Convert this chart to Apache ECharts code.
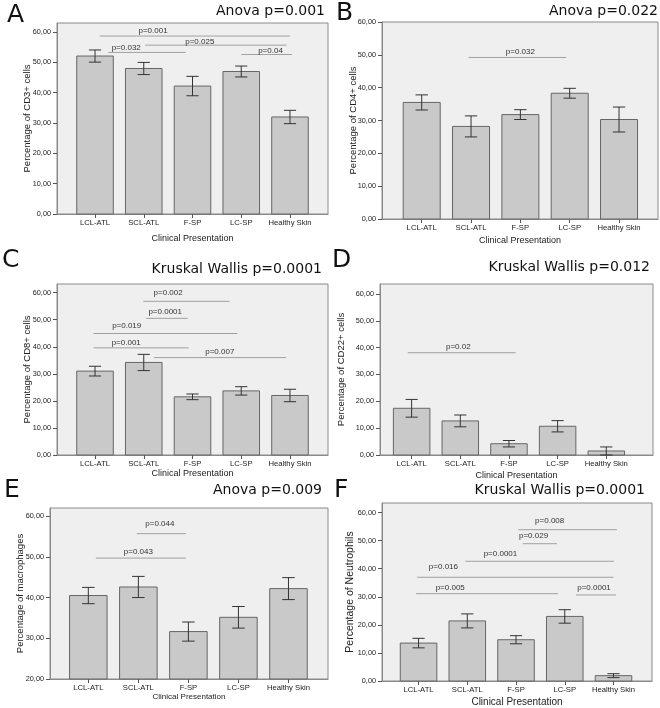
<!DOCTYPE html>
<html><head><meta charset="utf-8">
<script src="https://cdn.jsdelivr.net/npm/echarts@6/dist/echarts.min.js"></script>
<style>html,body{margin:0;padding:0;background:#fff}#c{width:660px;height:708px}</style>
</head><body><div id="c"></div>
<script>
// ---------------- DATA ----------------
const categories = ['LCL-ATL', 'SCL-ATL', 'F-SP', 'LC-SP', 'Healthy Skin'];
const categoryPositions = [0, 1, 2, 3, 4];
const yTicks = [0, 10, 20, 30, 40, 50, 60];
const yTicksMacro = [20, 30, 40, 50, 60];

// significance rows: [label, fromCategory, toCategory, lineValue, labelCategory, labelValue]
const cd3Mean = [52.1, 48.0, 42.2, 47.0, 32.0];
const cd3Err = [2.0, 2.0, 3.2, 1.8, 2.2];
const cd3Sig = [
  ['p=0.001', 0.10, 4.00, 58.7, 1.19, 60.4],
  ['p=0.025', 1.03, 3.93, 55.7, 2.15, 56.9],
  ['p=0.032', 0.27, 1.86, 53.3, 0.64, 54.7],
  ['p=0.04', 3.00, 4.04, 52.6, 3.60, 53.7]
];

const cd4Mean = [35.5, 28.2, 31.8, 38.3, 30.3];
const cd4Err = [2.3, 3.2, 1.5, 1.5, 3.8];
const cd4Sig = [
  ['p=0.032', 0.95, 2.93, 49.2, 2.00, 50.9]
];

const cd8Mean = [31.0, 34.2, 21.5, 23.7, 22.0];
const cd8Err = [1.8, 3.0, 1.05, 1.55, 2.3];
const cd8Sig = [
  ['p=0.002', 0.99, 2.76, 56.8, 1.50, 60.0],
  ['p=0.0001', 1.05, 1.90, 50.5, 1.44, 52.9],
  ['p=0.019', -0.03, 2.92, 44.9, 0.65, 47.7],
  ['p=0.001', -0.03, 1.92, 39.6, 0.64, 41.6],
  ['p=0.007', 1.21, 3.92, 36.0, 2.56, 38.1]
];

const cd22Mean = [17.4, 12.7, 4.2, 10.7, 1.5];
const cd22Err = [3.3, 2.2, 1.2, 2.1, 1.5];
const cd22Sig = [
  ['p=0.02', -0.08, 2.14, 38.1, 0.96, 40.4]
];

const macroMean = [40.5, 42.6, 31.65, 35.15, 42.2];
const macroErr = [2.0, 2.6, 2.35, 2.65, 2.7];
const macroSig = [
  ['p=0.044', 0.97, 1.95, 55.7, 1.43, 58.1],
  ['p=0.043', 0.15, 1.95, 49.7, 1.00, 51.2]
];

const neutroMean = [13.5, 21.4, 14.7, 23.0, 1.9];
const neutroErr = [1.7, 2.5, 1.45, 2.4, 0.7];
const neutroSig = [
  ['p=0.008', 2.05, 4.07, 53.9, 2.69, 56.9],
  ['p=0.029', 2.14, 2.84, 48.9, 2.36, 51.6],
  ['p=0.0001', 0.96, 4.01, 42.65, 1.68, 45.4],
  ['p=0.016', -0.03, 4.00, 36.95, 0.51, 40.75],
  ['p=0.005', -0.05, 2.86, 31.1, 0.65, 33.3],
  ['p=0.0001', 3.23, 4.05, 30.65, 3.60, 33.3]
];

// ---------------- LAYOUT ----------------
const panels = [
  {letter: 'A', title: 'Anova p=0.001', yName: 'Percentage of CD3+ cells', mean: cd3Mean, err: cd3Err, sig: cd3Sig, ticks: yTicks,
   grid: {left: 57, top: 23, width: 271, height: 191}, xr: [-0.78, 4.78], yr: [0, 63],
   letterPos: [7, 15], titlePos: [325, 11.5], yGap: 25, xGap: 20, xNameSize: 9},
  {letter: 'B', title: 'Anova p=0.022', yName: 'Percentage of CD4+ cells', mean: cd4Mean, err: cd4Err, sig: cd4Sig, ticks: yTicks,
   grid: {left: 382, top: 22, width: 276, height: 197}, xr: [-0.805, 4.79], yr: [0, 60],
   letterPos: [336, 13.5], titlePos: [658, 11.7], yGap: 24, xGap: 17, xNameSize: 9},
  {letter: 'C', title: 'Kruskal Wallis p=0.0001', yName: 'Percentage of CD8+ cells', mean: cd8Mean, err: cd8Err, sig: cd8Sig, ticks: yTicks,
   grid: {left: 57, top: 284, width: 271, height: 171}, xr: [-0.78, 4.78], yr: [0, 63.2],
   letterPos: [2, 260], titlePos: [322, 269.7], yGap: 25, xGap: 14, xNameSize: 9},
  {letter: 'D', title: 'Kruskal Wallis p=0.012', yName: 'Percentage of CD22+ cells', mean: cd22Mean, err: cd22Err, sig: cd22Sig, ticks: yTicks,
   grid: {left: 380, top: 284, width: 273, height: 171}, xr: [-0.65, 4.96], yr: [0, 63.7],
   letterPos: [332, 260.3], titlePos: [650, 267], yGap: 34, xGap: 16, xNameSize: 9},
  {letter: 'E', title: 'Anova p=0.009', yName: 'Percentage of macrophages', mean: macroMean, err: macroErr, sig: macroSig, ticks: yTicksMacro,
   grid: {left: 50, top: 508, width: 278, height: 171}, xr: [-0.766, 4.79], yr: [20, 62],
   letterPos: [4, 490.3], titlePos: [322, 490.8], yGap: 25, xGap: 14, xNameSize: 8},
  {letter: 'F', title: 'Kruskal Wallis p=0.0001', yName: 'Percentage of Neutrophils', mean: neutroMean, err: neutroErr, sig: neutroSig, ticks: yTicks,
   grid: {left: 382, top: 503, width: 270, height: 178}, xr: [-0.75, 4.79], yr: [0, 63.4],
   letterPos: [334, 490], titlePos: [645, 490.8], yGap: 26, xGap: 16, xNameSize: 10, yNameSize: 10.5}
];

const BAR_HALF = 0.375, WHISKER_HALF = 0.125;
const fmt = v => v.toFixed(2).replace('.', ',');

const grids = [], xAxes = [], yAxes = [], series = [], graphics = [];

panels.forEach((p, k) => {
  grids.push(Object.assign({show: true, backgroundColor: '#efefef', borderColor: '#8a8a8a', borderWidth: 1}, p.grid));
  xAxes.push({
    type: 'value', gridIndex: k, min: p.xr[0], max: p.xr[1],
    splitLine: {show: false},
    axisLine: {show: true, onZero: false, lineStyle: {color: '#8a8a8a'}},
    axisTick: {show: true, customValues: categoryPositions, length: 4, lineStyle: {color: '#555'}},
    axisLabel: {customValues: categoryPositions, formatter: v => categories[Math.round(v)], fontSize: 7.7,
      color: '#222', margin: 5, fontFamily: 'Liberation Sans, Arial, sans-serif'},
    name: 'Clinical Presentation', nameLocation: 'middle', nameGap: p.xGap, nameMoveOverlap: false,
    nameTextStyle: {fontSize: p.xNameSize, color: '#222', fontFamily: 'Liberation Sans, Arial, sans-serif'}
  });
  yAxes.push({
    type: 'value', gridIndex: k, min: p.yr[0], max: p.yr[1],
    splitLine: {show: false},
    axisLine: {show: true, onZero: false, lineStyle: {color: '#8a8a8a'}},
    axisTick: {show: true, customValues: p.ticks, length: 4, lineStyle: {color: '#555'}},
    axisLabel: {customValues: p.ticks, formatter: fmt, fontSize: 7.3, color: '#222', margin: 6,
      fontFamily: 'Liberation Sans, Arial, sans-serif'},
    name: p.yName, nameLocation: 'middle', nameGap: p.yGap, nameMoveOverlap: false,
    nameTextStyle: {fontSize: p.yNameSize || 9.5, color: '#222', fontFamily: 'Liberation Sans, Arial, sans-serif'}
  });
  const yMin = p.yr[0];
  series.push({
    type: 'custom', xAxisIndex: k, yAxisIndex: k, silent: true,
    data: categories.map((c, i) => [categoryPositions[i], p.mean[i], p.err[i]]),
    encode: {x: 0, y: 1},
    renderItem: (params, api) => {
      const i = api.value(0), m = api.value(1), e = api.value(2);
      const tl = api.coord([i - BAR_HALF, m]);
      const br = api.coord([i + BAR_HALF, yMin]);
      const top = api.coord([i, m + e]);
      const bot = api.coord([i, Math.max(yMin, m - e)]);
      const wl = api.coord([i - WHISKER_HALF, m])[0];
      const wr = api.coord([i + WHISKER_HALF, m])[0];
      const ls = {stroke: '#333', lineWidth: 1};
      return {type: 'group', children: [
        {type: 'rect', shape: {x: tl[0], y: tl[1], width: br[0] - tl[0], height: br[1] - tl[1]},
         style: {fill: '#c9c9c9', stroke: '#666', lineWidth: 1}},
        {type: 'line', shape: {x1: top[0], y1: top[1], x2: bot[0], y2: bot[1]}, style: ls},
        {type: 'line', shape: {x1: wl, y1: top[1], x2: wr, y2: top[1]}, style: ls},
        {type: 'line', shape: {x1: wl, y1: bot[1], x2: wr, y2: bot[1]}, style: ls}
      ]};
    }
  });
  const sig = p.sig;
  series.push({
    type: 'custom', xAxisIndex: k, yAxisIndex: k, silent: true,
    data: sig.map(s => [s[1], s[3], s[2], s[4], s[5]]),
    encode: {x: [0, 2, 3], y: [1, 4]},
    renderItem: (params, api) => {
      const a = api.coord([api.value(0), api.value(1)]);
      const b = api.coord([api.value(2), api.value(1)]);
      const l = api.coord([api.value(3), api.value(4)]);
      return {type: 'group', children: [
        {type: 'line', shape: {x1: a[0], y1: a[1], x2: b[0], y2: b[1]}, style: {stroke: '#a0a0a0', lineWidth: 1}},
        {type: 'text', x: l[0], y: l[1], style: {text: sig[params.dataIndex][0], align: 'center', verticalAlign: 'middle',
          fontSize: 8, fill: '#333', fontFamily: 'Liberation Sans, Arial, sans-serif'}}
      ]};
    }
  });
  graphics.push({type: 'text', x: p.letterPos[0], y: p.letterPos[1],
    style: {text: p.letter, fontSize: 25, fill: '#111', verticalAlign: 'middle', align: 'left', fontFamily: 'DejaVu Sans'}});
  graphics.push({type: 'text', x: p.titlePos[0], y: p.titlePos[1],
    style: {text: p.title, fontSize: 14, fill: '#111', verticalAlign: 'middle', align: 'right', fontFamily: 'DejaVu Sans'}});
});

const chart = echarts.init(document.getElementById('c'), null, {renderer: 'canvas'});
chart.setOption({
  animation: false,
  backgroundColor: '#ffffff',
  grid: grids, xAxis: xAxes, yAxis: yAxes, series: series, graphic: graphics
});
</script></body></html>
